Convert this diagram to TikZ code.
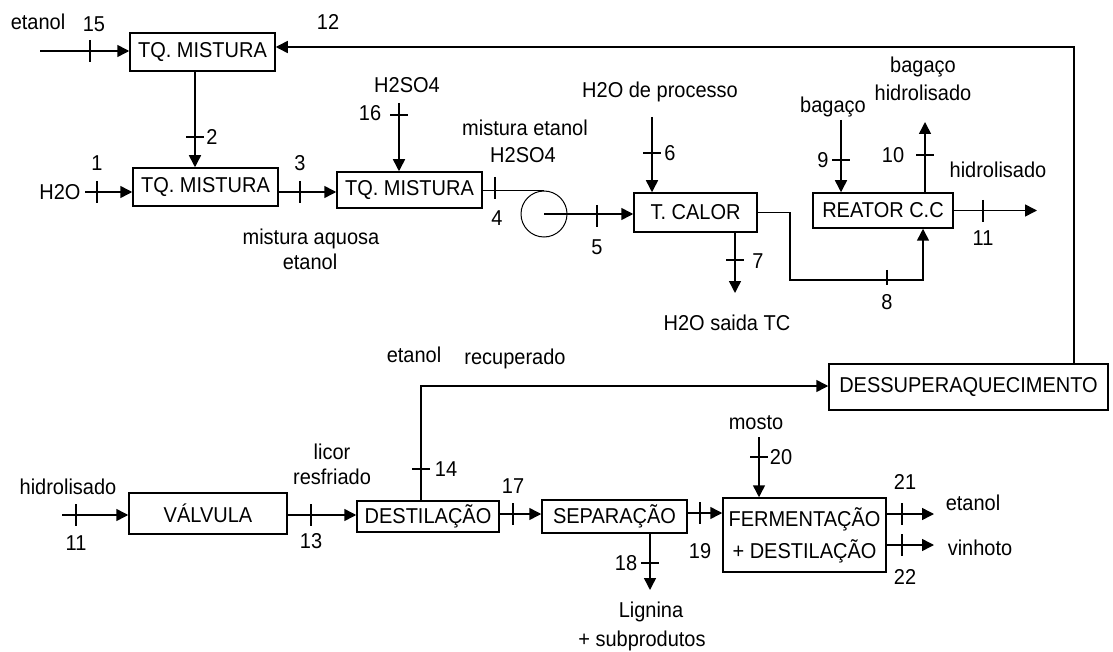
\documentclass[tikz,border=0pt]{standalone}
\usepackage{fontspec}
\setmainfont{Liberation Sans}[FakeStretch=0.93]
\usetikzlibrary{arrows.meta,calc}
\newcommand\tkv[2]{\draw[tickmark] (#1,#2) ++(0,-11) -- ++(0,22);}
\newcommand\tkh[2]{\draw[tickmark] (#1,#2) ++(-9,0) -- ++(18,0);}
\begin{document}
\begin{tikzpicture}[x=1pt,y=-1pt,
  every node/.style={font=\fontsize{21.5}{26}\selectfont, inner sep=0pt},
  box/.style={draw, line width=1.5pt, inner sep=0pt, align=center},
  flow/.style={line width=1.5pt, -{Triangle[length=12pt,width=12pt]}},
  pipe/.style={line width=1.3pt},
  lbl/.style={text height=15pt, text depth=0pt, anchor=center},
  tickmark/.style={line width=1.3pt}]
\useasboundingbox (0,0) rectangle (1113,652);

% ---------- boxes ----------
\node[box, minimum width=145pt, minimum height=38pt] (tq1) at (202.5,52) {TQ. MISTURA};
\node[box, minimum width=145pt, minimum height=38pt] (tq2) at (205.5,187) {TQ. MISTURA};
\node[box, minimum width=145pt, minimum height=36pt] (tq3) at (409.5,190) {TQ. MISTURA};
\node[draw, circle, line width=1pt, minimum size=46pt] (pump) at (544,214) {};
\node[box, minimum width=123pt, minimum height=39pt] (tcalor) at (695.5,212.5) {T. CALOR};
\node[box, minimum width=140pt, minimum height=35pt] (reator) at (883,210.5) {REATOR C.C};
\node[box, minimum width=279pt, minimum height=46pt] (dessup) at (968.5,387) {DESSUPERAQUECIMENTO};
\node[box, minimum width=158pt, minimum height=41pt] (valv) at (208,513.5) {VÁLVULA};
\node[box, minimum width=142pt, minimum height=31pt] (destil) at (428,516.5) {DESTILAÇÃO};
\node[box, minimum width=145pt, minimum height=33pt] (separ) at (614.5,516.5) {SEPARAÇÃO};
\node[box, minimum width=163pt, minimum height=74pt, font=\fontsize{21.5}{32}\selectfont] (ferm) at (804.5,535) {FERMENTAÇÃO\\+ DESTILAÇÃO};

% ---------- free ends / corners ----------
\coordinate (in15) at (40,51);
\coordinate (c12) at (1074,47);
\coordinate (c2) at (195,0);
\coordinate (in1) at (85,192);
\coordinate (y3) at (0,192);
\coordinate (in16) at (399,103);
\coordinate (in6) at (652,117);
\coordinate (out7) at (735,293);
\coordinate (c8a) at (790,280);
\coordinate (c8b) at (923,280);
\coordinate (in9) at (841,120);
\coordinate (out10) at (925,122);
\coordinate (out11) at (1037,210.5);
\coordinate (in11) at (62,515);
\coordinate (y13) at (0,515);
\coordinate (c14) at (421,386);
\coordinate (y17) at (0,514);
\coordinate (out18) at (650,590);
\coordinate (y19) at (0,513);
\coordinate (in20) at (759,437);
\coordinate (out21) at (934,514);
\coordinate (out22) at (934,545);

% ---------- connectors ----------
\draw[flow] (in15) -- (tq1.west |- in15);
\draw[flow] (dessup.north -| c12) -- (c12) -- (tq1.east |- c12);
\draw[flow] (tq1.south -| c2) -- (tq2.north -| c2);
\draw[flow] (in1) -- (tq2.west |- in1);
\draw[flow] (tq2.east |- y3) -- (tq3.west |- y3);
\draw[flow] (in16) -- (tq3.north -| in16);
\draw[pipe] (tq3.east |- pump.north) -- (pump.north);
\draw[flow] (pump.center) -- (tcalor.west |- pump.center);
\draw[flow] (in6) -- (tcalor.north -| in6);
\draw[flow] (tcalor.south -| out7) -- (out7);
\draw[flow] (tcalor.east) -- (tcalor.east -| c8a) -- (c8a) -- (c8b) -- (reator.south -| c8b);
\draw[flow] (in9) -- (reator.north -| in9);
\draw[flow] (reator.north -| out10) -- (out10);
\draw[flow] (reator.east) -- (out11);
\draw[flow] (in11) -- (valv.west |- in11);
\draw[flow] (valv.east |- y13) -- (destil.west |- y13);
\draw[flow] (destil.north -| c14) -- (c14) -- (dessup.west |- c14);
\draw[flow] (destil.east |- y17) -- (separ.west |- y17);
\draw[flow] (separ.south -| out18) -- (out18);
\draw[flow] (separ.east |- y19) -- (ferm.west |- y19);
\draw[flow] (in20) -- (ferm.north -| in20);
\draw[flow] (ferm.east |- out21) -- (out21);
\draw[flow] (ferm.east |- out22) -- (out22);

% ---------- tick marks ----------
\tkv{90}{51} \tkv{97}{192} \tkv{300}{192} \tkv{495}{188}
\tkv{597}{216} \tkv{983}{211} \tkv{76}{515} \tkv{311}{515}
\tkv{513}{514} \tkv{700}{513} \tkv{902}{514} \tkv{902}{545}
\draw[tickmark] (887,270) -- (887,285);
\tkh{195}{137} \tkh{399}{115} \tkh{652}{153} \tkh{735}{260}
\tkh{841}{160} \tkh{925}{155} \tkh{421}{469} \tkh{650}{563}
\tkh{759}{457}

% ---------- labels ----------
\node[lbl] (l_et15) at (38,22) {etanol};
\node[lbl] (l15) at (94,24) {15};
\node[lbl] (l12) at (328,22) {12};
\node[lbl] (l2) at (212,137) {2};
\node[lbl] (l1) at (97,163) {1};
\node[lbl] (l_h2o) at (60,192) {H2O};
\node[lbl] (l3) at (300,163) {3};
\node[lbl] (l_maq) at (311,237) {mistura aquosa};
\node[lbl] (l_maq2) at (310,262) {etanol};
\node[lbl] (l_h2so4) at (407,85) {H2SO4};
\node[lbl] (l16) at (370,113) {16};
\node[lbl] (l_met) at (525,128) {mistura etanol};
\node[lbl] (l_met2) at (523,155) {H2SO4};
\node[lbl] (l4) at (497,218) {4};
\node[lbl] (l5) at (597,247) {5};
\node[lbl] (l_h2op) at (660,90) {H2O de processo};
\node[lbl] (l6) at (670,153) {6};
\node[lbl] (l7) at (758,261) {7};
\node[lbl] (l_h2os) at (727,323) {H2O saida TC};
\node[lbl] (l8) at (887,302) {8};
\node[lbl] (l_bag) at (833,105) {bagaço};
\node[lbl] (l9) at (823,160) {9};
\node[lbl] (l_bagh) at (923,65) {bagaço};
\node[lbl] (l_bagh2) at (923,93) {hidrolisado};
\node[lbl] (l10) at (893,155) {10};
\node[lbl] (l_hid) at (998,170) {hidrolisado};
\node[lbl] (l11a) at (983,238) {11};
\node[lbl] (l_etr) at (414,355) {etanol};
\node[lbl] (l_rec) at (515,357) {recuperado};
\node[lbl] (l_hid2) at (68,487) {hidrolisado};
\node[lbl] (l11b) at (76,543) {11};
\node[lbl] (l_lic) at (332,452) {licor};
\node[lbl] (l_lic2) at (332,477) {resfriado};
\node[lbl] (l13) at (311,541) {13};
\node[lbl] (l14) at (446,469) {14};
\node[lbl] (l17) at (513,486) {17};
\node[lbl] (l_mosto) at (756,422) {mosto};
\node[lbl] (l20) at (781,457) {20};
\node[lbl] (l18) at (626,563) {18};
\node[lbl] (l_lig) at (651,610) {Lignina};
\node[lbl] (l_lig2) at (642,639) {+ subprodutos};
\node[lbl] (l19) at (700,551) {19};
\node[lbl] (l21) at (905,482) {21};
\node[lbl] (l_et21) at (973,503) {etanol};
\node[lbl] (l22) at (905,577) {22};
\node[lbl] (l_vin) at (980,548) {vinhoto};
\end{tikzpicture}
\end{document}
